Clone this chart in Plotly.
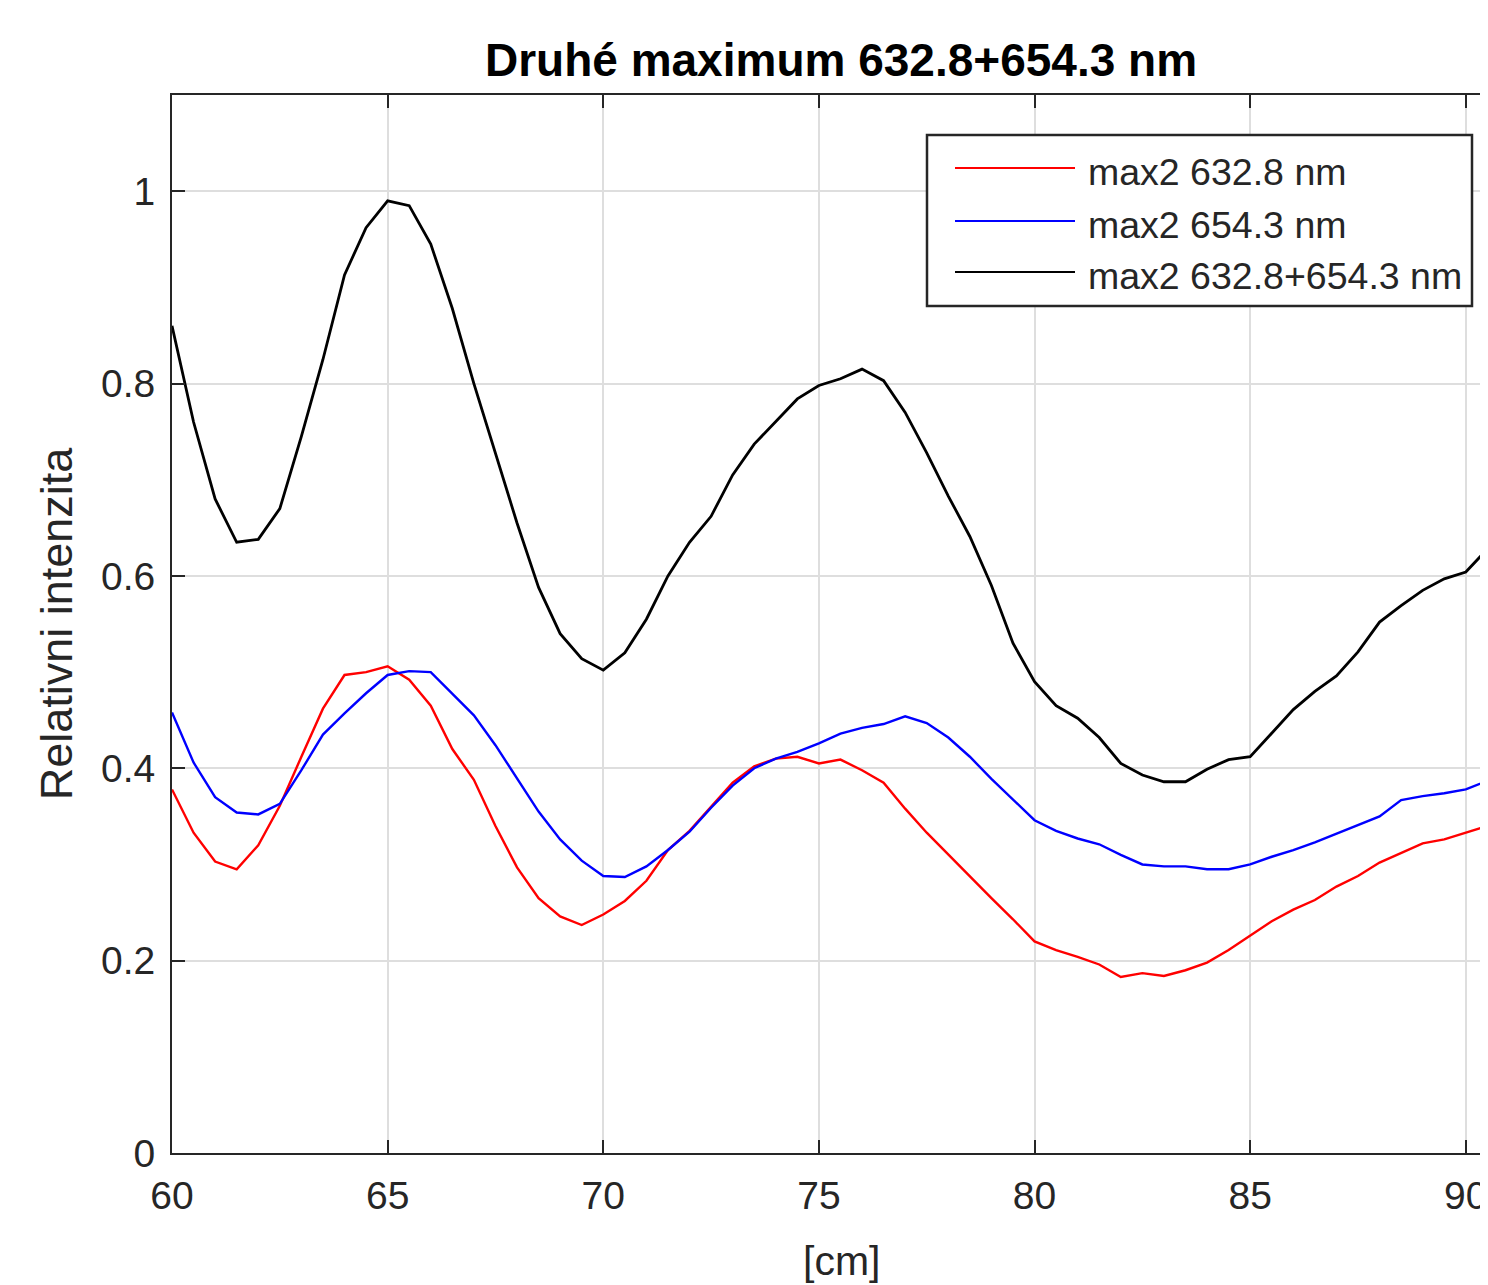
import plotly.graph_objects as go

# positions along the bench [cm]
position_cm = [60.0, 60.5, 61.0, 61.5, 62.0, 62.5, 63.0, 63.5, 64.0, 64.5,
               65.0, 65.5, 66.0, 66.5, 67.0, 67.5, 68.0, 68.5, 69.0, 69.5,
               70.0, 70.5, 71.0, 71.5, 72.0, 72.5, 73.0, 73.5, 74.0, 74.5,
               75.0, 75.5, 76.0, 76.5, 77.0, 77.5, 78.0, 78.5, 79.0, 79.5,
               80.0, 80.5, 81.0, 81.5, 82.0, 82.5, 83.0, 83.5, 84.0, 84.5,
               85.0, 85.5, 86.0, 86.5, 87.0, 87.5, 88.0, 88.5, 89.0, 89.5,
               90.0, 90.5]

max2_632 = [0.378, 0.333, 0.303, 0.295, 0.320, 0.361, 0.412, 0.462, 0.497, 0.500,
            0.506, 0.492, 0.465, 0.420, 0.388, 0.340, 0.297, 0.265, 0.246, 0.237,
            0.248, 0.262, 0.283, 0.315, 0.335, 0.360, 0.385, 0.402, 0.410, 0.412,
            0.405, 0.409, 0.398, 0.385, 0.358, 0.333, 0.310, 0.287, 0.265, 0.243,
            0.220, 0.211, 0.204, 0.196, 0.183, 0.187, 0.184, 0.190, 0.198, 0.211,
            0.226, 0.241, 0.253, 0.263, 0.277, 0.288, 0.302, 0.312, 0.322, 0.326,
            0.333, 0.340]

max2_654 = [0.458, 0.406, 0.370, 0.354, 0.352, 0.363, 0.398, 0.435, 0.457, 0.478,
            0.497, 0.501, 0.500, 0.478, 0.455, 0.424, 0.390, 0.355, 0.326, 0.304,
            0.288, 0.287, 0.298, 0.315, 0.334, 0.359, 0.382, 0.400, 0.410, 0.417,
            0.426, 0.436, 0.442, 0.446, 0.454, 0.447, 0.432, 0.412, 0.389, 0.367,
            0.346, 0.335, 0.327, 0.321, 0.310, 0.300, 0.298, 0.298, 0.295, 0.295,
            0.300, 0.308, 0.315, 0.323, 0.332, 0.341, 0.350, 0.367, 0.371, 0.374,
            0.378, 0.387]

max2_sum = [0.860, 0.760, 0.680, 0.635, 0.638, 0.670, 0.745, 0.825, 0.913, 0.962,
            0.990, 0.985, 0.945, 0.878, 0.800, 0.727, 0.655, 0.588, 0.540, 0.514,
            0.502, 0.520, 0.555, 0.600, 0.635, 0.662, 0.705, 0.737, 0.760, 0.784,
            0.798, 0.805, 0.815, 0.803, 0.770, 0.728, 0.683, 0.641, 0.590, 0.530,
            0.490, 0.465, 0.452, 0.432, 0.405, 0.393, 0.386, 0.386, 0.399, 0.409,
            0.412, 0.437, 0.461, 0.480, 0.496, 0.521, 0.552, 0.569, 0.585, 0.597,
            0.604, 0.628]

series_names = ["max2 632.8 nm", "max2 654.3 nm", "max2 632.8+654.3 nm"]
series_values = [max2_632, max2_654, max2_sum]
series_colors = ["#ff0000", "#0000ff", "#000000"]
series_widths = [2.4, 2.4, 2.8]

x_ticks = [60, 65, 70, 75, 80, 85, 90]
y_ticks = [0, 0.2, 0.4, 0.6, 0.8, 1]

FONT = "Liberation Sans, Arial, sans-serif"
TXT = "#262626"

# the page body has an 8px margin: layout numbers below compensate for it
W, H = 1488, 1285
L, T, B = 164, 87, 140
PLOT_W = W - L
PLOT_H = H - T - B

fig = go.Figure()
for name, vals, col, w in zip(series_names, series_values, series_colors, series_widths):
    fig.add_trace(go.Scatter(x=position_cm, y=vals, mode="lines", name=name,
                             line=dict(color=col, width=w), showlegend=False))

axis_common = dict(showline=True, linecolor=TXT, linewidth=2,
                   ticks="inside", ticklen=13, tickwidth=2, tickcolor=TXT,
                   showgrid=True, gridcolor="#dedede", gridwidth=1.5,
                   zeroline=False, automargin=False, ticklabelstandoff=7,
                   tickfont=dict(family=FONT, size=39, color=TXT))

fig.update_layout(
    width=W, height=H,
    margin=dict(l=L, r=0, t=T, b=B),
    paper_bgcolor="white", plot_bgcolor="white",
    title=dict(text="<b>Druhé maximum 632.8+654.3 nm</b>",
               font=dict(family=FONT, size=46, color="#000000"),
               x=833 / W, xref="container", xanchor="center",
               y=1 - 52 / H, yref="container", yanchor="middle"),
    xaxis=dict(range=[60, 90.7], tickvals=x_ticks, mirror="ticks",
               ticklabeloverflow="allow", **axis_common),
    yaxis=dict(range=[0, 1.1], tickvals=y_ticks, mirror=False,
               title=dict(text="Relativni intenzita",
                          font=dict(family=FONT, size=45, color=TXT), standoff=14),
               **axis_common),
)


def px_x(p):
    # page pixel -> paper x
    return (p - 8 - L) / PLOT_W


def px_y(p):
    # page pixel -> paper y
    return (H - B - (p - 8)) / PLOT_H


# x-axis title
fig.add_annotation(text="[cm]", xref="paper", yref="paper",
                   x=px_x(842), y=px_y(1261),
                   xanchor="center", yanchor="middle", showarrow=False,
                   font=dict(family=FONT, size=41, color=TXT))

# legend box (drawn to match the reference look)
fig.add_shape(type="rect", xref="paper", yref="paper",
              x0=px_x(927), x1=px_x(1472), y0=px_y(306), y1=px_y(135),
              line=dict(color=TXT, width=2.5), fillcolor="white", layer="above")
legend_rows = [168, 221, 272]
for name, col, yy in zip(series_names, series_colors, legend_rows):
    fig.add_shape(type="line", xref="paper", yref="paper",
                  x0=px_x(955), x1=px_x(1075), y0=px_y(yy), y1=px_y(yy),
                  line=dict(color=col, width=2), layer="above")
    fig.add_annotation(text=name, xref="paper", yref="paper",
                       x=px_x(1086), y=px_y(yy + 4), xanchor="left", yanchor="middle",
                       showarrow=False, font=dict(family=FONT, size=37.5, color=TXT))

fig.write_html("out.html")
